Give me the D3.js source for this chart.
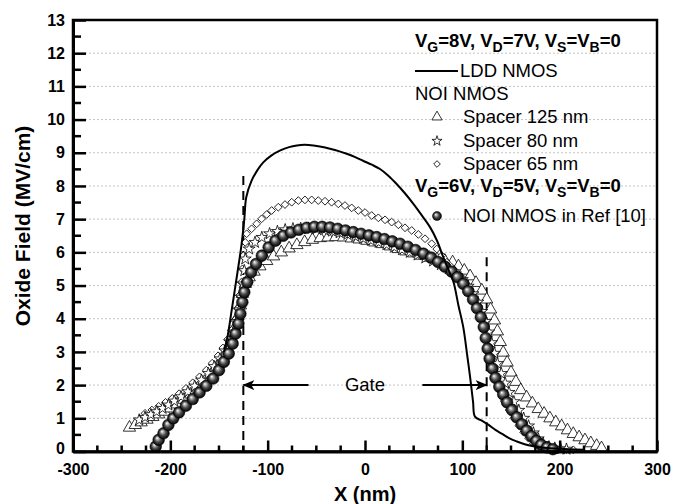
<!DOCTYPE html>
<html><head><meta charset="utf-8">
<script src="https://cdn.jsdelivr.net/npm/d3@7"></script>
<style>body{margin:0;background:#fff}svg{display:block}text{font-family:"Liberation Sans",Arial,sans-serif}</style>
</head><body><svg id="c" width="686" height="504"></svg>
<script>
// ---------- data ----------
const xTickVals = [-300,-200,-100,0,100,200,300];
const yTickVals = [0,1,2,3,4,5,6,7,8,9,10,11,12,13];
const gridVals = [1,2,3,4,5,6,7,8,9,10,11,12];
const gateX = [-125, 125];
const gateTopY = [8.3, 5.85];
const gateArrowY = 2;
const gateArrowFrom = [-58, 59];

const lddX = [-145,-141,-137,-131,-127,-124,-122,-116.5,-110,-104.5,-96,-87,-78,-70,-62,-53,-45,-36,-27,-18.8,-10,-2,7,15.4,24,32.5,41,49.7,58,66.8,74,80.5,87.4,91,96,101,105,108,111,113,120,127,134,141,148,156,164,173,182,195,210,225];
const lddY = [3.0,3.5,4.25,5.4,6.2,7.0,7.66,8.16,8.5,8.71,8.92,9.07,9.17,9.22,9.24,9.22,9.18,9.12,9.05,8.97,8.87,8.76,8.64,8.51,8.31,8.06,7.78,7.46,7.13,6.76,6.35,5.85,5.36,5.1,4.4,3.74,2.9,2.24,1.5,1.05,0.93,0.8,0.65,0.53,0.4,0.3,0.22,0.16,0.12,0.09,0.07,0.05];

const triX = [-242,-236,-230,-224,-218,-212,-206,-200,-193,-186,-179,-172,-165,-158,-152,-146,-141,-137,-134,-131,-128,-126,-123,-119,-114,-108,-101,-94,-86,-78,-70,-62,-54,-46,-38,-30,-22,-14,-6,2,10,18,26,34,42,50,58,66,74,82,90,96,102,108,114,120,125,129,133,136,139,142,146,150,155,160,166,172,178,184,190,196,202,208,214,220,226,232,238,243];
const triY = [0.72,0.8,0.88,0.96,1.04,1.12,1.2,1.3,1.42,1.56,1.72,1.9,2.1,2.32,2.56,2.82,3.1,3.4,3.72,4.05,4.4,4.75,5.05,5.25,5.42,5.58,5.74,5.88,6.0,6.12,6.22,6.31,6.38,6.43,6.45,6.46,6.45,6.42,6.39,6.35,6.3,6.25,6.18,6.1,6.03,5.97,5.9,5.84,5.79,5.75,5.7,5.58,5.45,5.28,5.08,4.85,4.58,4.28,3.95,3.62,3.3,2.98,2.68,2.38,2.1,1.85,1.63,1.45,1.28,1.14,1.0,0.88,0.76,0.64,0.53,0.43,0.34,0.25,0.17,0.1];

const starX = [-232,-226,-220,-214,-208,-202,-196,-189,-182,-175,-168,-161,-155,-149,-144,-139,-135,-132,-129,-127,-125,-124,-123,-119,-113,-106,-98,-90,-82,-74,-66,-58,-50,-42,-34,-26,-18,-10,-2,6,14,22,30,38,46,54,62,70,78,86,93,100,106,111,116,120,124,127,130,133,136,140,144,148,153,158,163,168,173,178,183,189,195,201,207];
const starY = [0.95,1.03,1.11,1.2,1.3,1.4,1.52,1.65,1.8,1.97,2.15,2.35,2.56,2.79,3.03,3.3,3.6,3.92,4.27,4.65,5.05,5.45,5.8,6.1,6.3,6.45,6.56,6.63,6.68,6.71,6.72,6.72,6.71,6.68,6.64,6.59,6.54,6.48,6.42,6.36,6.3,6.23,6.16,6.08,6.0,5.92,5.83,5.74,5.63,5.5,5.35,5.18,4.98,4.75,4.5,4.22,3.92,3.6,3.28,2.96,2.65,2.35,2.06,1.78,1.5,1.24,1.0,0.77,0.56,0.38,0.24,0.14,0.1,0.08,0.07];

const diaX = [-226,-219,-212,-205,-198,-191,-184,-177,-170,-163,-157,-151,-146,-141,-137,-134,-131,-129,-127,-126,-125,-123,-121.6,-116.5,-111.3,-106.2,-101,-95.9,-89.1,-82.2,-75.3,-68.5,-61.7,-54.8,-48,-41.1,-34.3,-27.4,-20.6,-13.7,-6.9,0,6.9,13.7,20.6,27.4,34.3,41.1,48,54.8,61.7,68.5,73.7,78.8,84,89.1,94.2,99.4,104,109,114,118,122,125,127,129,132,135,139,143,148,153,158,163,168,173,179,186,193,200,207,214];
const diaY = [1.15,1.25,1.36,1.48,1.6,1.74,1.9,2.07,2.25,2.45,2.66,2.88,3.12,3.38,3.65,3.95,4.3,4.7,5.1,5.5,5.9,6.3,6.56,6.71,6.86,7.01,7.14,7.26,7.36,7.44,7.51,7.56,7.58,7.58,7.56,7.54,7.51,7.46,7.41,7.34,7.26,7.2,7.11,7.04,6.98,6.91,6.83,6.74,6.66,6.54,6.41,6.26,6.1,5.9,5.7,5.55,5.4,5.25,5.05,4.8,4.5,4.2,3.85,3.5,3.15,2.8,2.45,2.12,1.82,1.52,1.25,1.0,0.78,0.58,0.4,0.25,0.15,0.1,0.08,0.07,0.06,0.05];

const ballX = [-215,-212,-207,-202,-197,-191,-184,-177,-170,-163,-156,-150,-145,-140,-136,-133,-130,-128,-126,-124,-121,-117,-112,-106,-99,-92,-84,-76,-68,-60,-52,-44,-36,-28,-20,-12,-4,4,12,20,28,36,44,52,60,68,75,82,89,95,101,106,111,115,119,122,124,126,128,131,134,138,142,146,151,156,161,166,171,176,181,187,193];
const ballY = [0.15,0.35,0.55,0.8,1.0,1.18,1.38,1.58,1.78,1.98,2.2,2.45,2.7,2.95,3.25,3.55,3.85,4.15,4.5,4.8,5.1,5.4,5.65,5.9,6.15,6.35,6.5,6.6,6.68,6.74,6.77,6.77,6.75,6.71,6.66,6.61,6.56,6.51,6.46,6.4,6.33,6.26,6.17,6.07,5.96,5.84,5.71,5.57,5.42,5.25,5.05,4.83,4.58,4.32,4.05,3.75,3.42,3.1,2.8,2.5,2.22,1.95,1.72,1.48,1.25,1.03,0.82,0.63,0.46,0.32,0.2,0.12,0.07];

// ---------- chart ----------
const svg = d3.select("#c");
const x = d3.scaleLinear().domain([-300,300]).range([73,657]);
const y = d3.scaleLinear().domain([0,13]).range([451.5,20]);
const FONT = "Liberation Sans, Arial, sans-serif";

const defs = svg.append("defs");
const grad = defs.append("radialGradient").attr("id","ball").attr("cx","50%").attr("cy","50%").attr("r","50%").attr("fx","36%").attr("fy","33%");
grad.append("stop").attr("offset","0%").attr("stop-color","#ffffff");
grad.append("stop").attr("offset","22%").attr("stop-color","#b5b5b5");
grad.append("stop").attr("offset","55%").attr("stop-color","#4a4a4a");
grad.append("stop").attr("offset","100%").attr("stop-color","#000");

// gridlines
svg.append("g").selectAll("line").data(gridVals).join("line")
  .attr("x1", x(-300)).attr("x2", x(300))
  .attr("y1", d=>y(d)).attr("y2", d=>y(d))
  .attr("stroke","#c4c4c4").attr("stroke-width",1).attr("stroke-dasharray","2,2");

// gate dashed lines
svg.append("g").selectAll("line").data(gateX).join("line")
  .attr("x1", d=>x(d)).attr("x2", d=>x(d))
  .attr("y1", (d,i)=>y(gateTopY[i])).attr("y2", y(0))
  .attr("stroke","#000").attr("stroke-width",2).attr("stroke-dasharray","9,6");

// gate arrows
defs.append("marker").attr("id","ah").attr("viewBox","0 0 12 10").attr("refX",11).attr("refY",5)
  .attr("markerWidth",12).attr("markerHeight",10).attr("markerUnits","userSpaceOnUse").attr("orient","auto")
  .append("path").attr("d","M0,0 L12,5 L0,10 L3,5 Z").attr("fill","#000");
svg.append("g").selectAll("line").data(gateX).join("line")
  .attr("x1",(d,i)=>x(gateArrowFrom[i])).attr("x2",d=>x(d))
  .attr("y1",y(gateArrowY)).attr("y2",y(gateArrowY))
  .attr("stroke","#000").attr("stroke-width",2).attr("marker-end","url(#ah)");
svg.append("text").attr("x", x(0)).attr("y", y(gateArrowY)+6).attr("text-anchor","middle")
  .attr("font-size",18.5).text("Gate");

const zip = (xs, ys) => xs.map((v,i)=>[v, ys[i]]);

const triSym = d3.symbol(d3.symbolTriangle, 66)();
const starSym = d3.symbol(d3.symbolStar, 44)();
const diaSym = d3.symbol(d3.symbolSquare, 30)();

function openMarks(data, path, rot) {
  svg.append("g").selectAll("path").data(data).join("path")
    .attr("d", path)
    .attr("transform", d=>`translate(${x(d[0])},${y(d[1])})${rot?` rotate(${rot})`:""}`)
    .attr("fill","#fff").attr("stroke","#000").attr("stroke-width",0.8);
}
openMarks(zip(triX,triY), triSym, 0);
openMarks(zip(diaX,diaY), diaSym, 45);
openMarks(zip(starX,starY), starSym, 0);

svg.append("g").selectAll("circle").data(zip(ballX,ballY)).join("circle")
  .attr("cx", d=>x(d[0])).attr("cy", d=>y(d[1])).attr("r",5.8)
  .attr("fill","url(#ball)").attr("stroke","#000").attr("stroke-width",0.6);

// LDD line
svg.append("path").datum(zip(lddX,lddY))
  .attr("d", d3.line().x(d=>x(d[0])).y(d=>y(d[1])).curve(d3.curveCatmullRom))
  .attr("fill","none").attr("stroke","#000").attr("stroke-width",2);

// frame
svg.append("rect").attr("x",x(-300)).attr("y",y(13)).attr("width",x(300)-x(-300)).attr("height",y(0)-y(13))
  .attr("fill","none").attr("stroke","#000").attr("stroke-width",2.5);

// axes (inward ticks)
const fmt = d => String(d);
const xAxis = d3.axisBottom(x).tickValues(xTickVals).tickSizeInner(-11).tickSizeOuter(0).tickPadding(12).tickFormat(fmt);
const gx = svg.append("g").attr("transform",`translate(0,${y(0)})`).call(xAxis);
gx.select(".domain").attr("stroke-width",3);
gx.selectAll(".tick line").attr("stroke-width",2.5);
gx.selectAll("text").attr("font-size",16).attr("font-weight","bold").attr("font-family",FONT).attr("fill","#000");
const xMinor = d3.range(-300,301,25).filter(v=>v%100!==0);
svg.append("g").selectAll("line").data(xMinor).join("line")
  .attr("x1",d=>x(d)).attr("x2",d=>x(d)).attr("y1",y(0)).attr("y2",y(0)-6)
  .attr("stroke","#000").attr("stroke-width",2.5);

const yAxis = d3.axisLeft(y).tickValues(yTickVals).tickSizeInner(-13).tickSizeOuter(0).tickPadding(8).tickFormat(fmt);
const gy = svg.append("g").attr("transform",`translate(${x(-300)},0)`).call(yAxis);
gy.select(".domain").attr("stroke-width",3);
gy.selectAll(".tick line").attr("stroke-width",2.5);
gy.selectAll("text").attr("font-size",16).attr("font-weight","bold").attr("font-family",FONT).attr("fill","#000");
gy.selectAll(".tick").filter(d=>d===0).select("text").attr("dy","0.15em");
const yMinor = d3.range(0.5,13,1);
svg.append("g").selectAll("line").data(yMinor).join("line")
  .attr("x1",x(-300)).attr("x2",x(-300)+8).attr("y1",d=>y(d)).attr("y2",d=>y(d))
  .attr("stroke","#000").attr("stroke-width",2.5);

// axis titles
svg.append("text").attr("x", x(0)).attr("y", 501).attr("text-anchor","middle")
  .attr("font-size",20).attr("font-weight","bold").text("X (nm)");
svg.append("text").attr("transform","translate(30,226) rotate(-90)").attr("text-anchor","middle")
  .attr("font-size",21).attr("font-weight","bold").text("Oxide Field (MV/cm)");

// legend
function biasTitle(yb, vg, vd) {
  const t = svg.append("text").attr("x",415).attr("y",yb).attr("font-size",18.5).attr("font-weight","bold");
  const parts = [["V",""],["G","sub"],["="+vg+"V, V",""],["D","sub"],["="+vd+"V, V",""],["S","sub"],["=V",""],["B","sub"],["=0",""]];
  let sub = false;
  parts.forEach(([s,k])=>{
    const ts = t.append("tspan").text(s);
    if (k==="sub") { ts.attr("font-size",14); if (!sub) { ts.attr("dy",5); sub=true; } }
    else if (sub) { ts.attr("dy",-5); sub=false; }
  });
}
biasTitle(47, 8, 7);
biasTitle(192, 6, 5);
svg.append("line").attr("x1",415).attr("x2",458).attr("y1",71).attr("y2",71).attr("stroke","#000").attr("stroke-width",2);
svg.append("text").attr("x",460).attr("y",77).attr("font-size",18.5).text("LDD NMOS");
svg.append("text").attr("x",415).attr("y",100).attr("font-size",18.5).text("NOI NMOS");
const legItems = [
  {label:"Spacer 125 nm", yb:123, sym:d3.symbol(d3.symbolTriangle,45)(), rot:0},
  {label:"Spacer 80 nm", yb:147, sym:d3.symbol(d3.symbolStar,32)(), rot:0},
  {label:"Spacer 65 nm", yb:170, sym:d3.symbol(d3.symbolSquare,22)(), rot:45}
];
legItems.forEach(it=>{
  svg.append("path").attr("d",it.sym).attr("transform",`translate(437,${it.yb-6}) rotate(${it.rot})`)
    .attr("fill","#fff").attr("stroke","#000").attr("stroke-width",0.8);
  svg.append("text").attr("x",463).attr("y",it.yb).attr("font-size",18.5).text(it.label);
});
svg.append("circle").attr("cx",437).attr("cy",216).attr("r",4.5).attr("fill","url(#ball)").attr("stroke","#000").attr("stroke-width",0.5);
svg.append("text").attr("x",463).attr("y",222).attr("font-size",18.5).text("NOI NMOS in Ref [10]");
</script></body></html>
